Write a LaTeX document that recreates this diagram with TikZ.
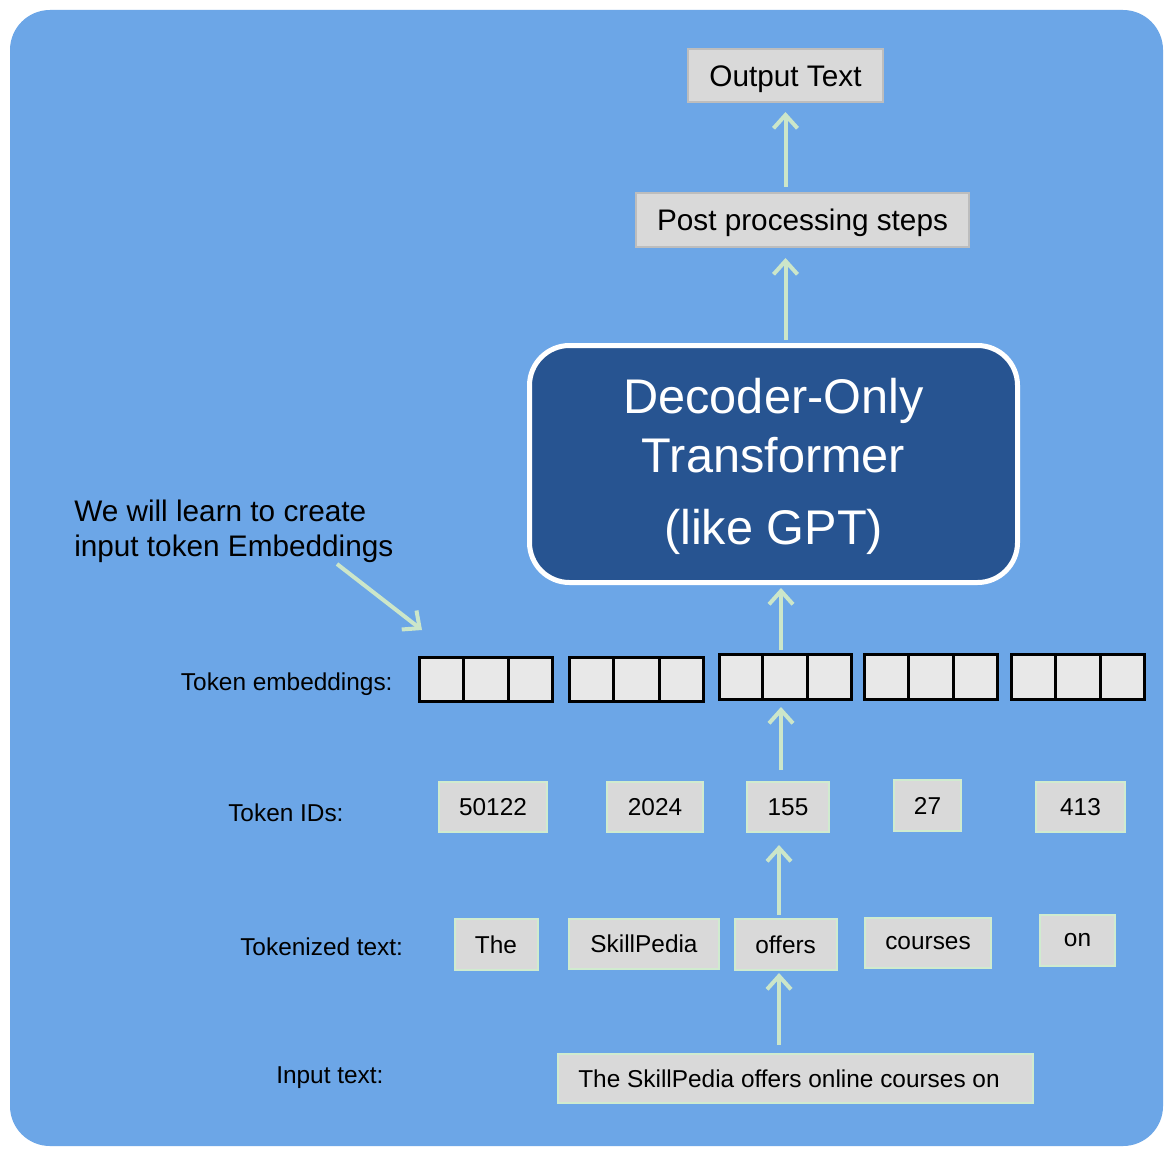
\documentclass[tikz,border=0pt]{standalone}
\usepackage{fontspec}
\setmainfont{Liberation Sans}
\usetikzlibrary{arrows.meta,calc}
\definecolor{bgblue}{HTML}{6CA6E7}
\definecolor{decblue}{HTML}{275491}
\definecolor{boxgray}{HTML}{D9D9D9}
\definecolor{cellgray}{HTML}{E8E8E8}
\definecolor{boxgreen}{HTML}{D0EBCF}
\definecolor{arrgreen}{HTML}{CCE6C9}
\definecolor{bordgray}{HTML}{BDBDBD}
\newcommand\fsS{\fontsize{18.3pt}{22pt}\selectfont}
\newcommand\fsM{\fontsize{22.3pt}{26.5pt}\selectfont}
\newcommand\fsL{\fontsize{36.5pt}{44.25pt}\selectfont}
\begin{document}
\begin{tikzpicture}[x=0.75pt,y=-0.75pt,
  sz/.style n args={2}{minimum width=#1*0.75pt, minimum height=#2*0.75pt},
  tokbox/.style={draw=boxgreen, line width=1.5pt, fill=boxgray, inner sep=0pt, font=\fsS},
  topbox/.style={draw=bordgray, line width=1.5pt, fill=boxgray, inner sep=0pt, font=\fsM, text height=16pt, text depth=0pt},
  decbox/.style={draw=white, line width=3.75pt, fill=decblue, rounded corners=30pt, inner sep=0pt, text=white, font=\fsL, align=center},
  embox/.style={draw=black, line width=2.25pt, fill=cellgray, inner sep=0pt},
  emline/.style={draw=black, line width=2.25pt},
  lbl/.style={anchor=base west, inner sep=0pt, font=\fsS},
  note/.style={anchor=base west, inner sep=0pt, font=\fsM},
  arr/.style={draw=arrgreen, line width=3pt, -{Straight Barb[length=10pt,width=18pt]}}
]
\useasboundingbox (0,0) rectangle (1176,1152);
\fill[white] (0,0) rectangle (1176,1152);
\fill[bgblue, rounded corners=30pt] (10,10) rectangle (1163,1146);

% top boxes
\node[topbox, sz={195}{53}] (out) at (785.5,75.5) {Output Text};
\node[topbox, sz={333}{54}] (post) at (802.5,220) {Post processing steps};

% decoder
\node[decbox, sz={488}{237}] (dec) at (773.5,464) {\rule{0pt}{30.4pt}Decoder-Only\\Transformer\\[9.5pt](like GPT)};

% note
\node[note] (note1) at (74,521) {We will learn to create};
\node[note] (note2) at (74,556) {input token Embeddings};

% row labels
\node[lbl] (lemb) at (180.7,690) {Token embeddings:};
\node[lbl] (lid) at (228,821) {Token IDs:};
\node[lbl] (ltok) at (240,955) {Tokenized text:};
\node[lbl] (linp) at (276,1083) {Input text:};

% embeddings
\node[embox, sz={133}{44}] (e1) at (486,679.5) {};
\node[embox, sz={134}{44}] (e2) at (636.5,679.5) {};
\node[embox, sz={132}{45}] (e3) at (785,677) {};
\node[embox, sz={133}{45}] (e4) at (931,677) {};
\node[embox, sz={133}{45}] (e5) at (1078,677) {};
\foreach \e in {e1,e2,e3,e4,e5}{
  \foreach \f in {0.3333,0.6667}{
    \draw[emline] ($(\e.north west)!\f!(\e.north east)$) -- ($(\e.south west)!\f!(\e.south east)$);
  }
}

% token IDs
\node[tokbox, sz={108}{50}] (i1) at (493,807) {50122};
\node[tokbox, sz={96}{50}] (i2) at (655,807) {2024};
\node[tokbox, sz={82}{50}] (i3) at (788,807) {155};
\node[tokbox, sz={67}{51}] (i4) at (927.5,805.5) {27};
\node[tokbox, sz={89}{50}] (i5) at (1080.5,807) {413};

% tokens
\node[tokbox, sz={83}{51}] (t1) at (496,944.5) {The};
\node[tokbox, sz={150}{50}] (t2) at (644,944) {SkillPedia};
\node[tokbox, sz={102}{51}] (t3) at (785.6,944.5) {offers};
\node[tokbox, sz={126}{50}] (t4) at (928,943) {courses};
\node[tokbox, sz={75}{51}] (t5) at (1077.5,940.5) {on};

% input
\node[tokbox, sz={475}{49}] (inp) at (795,1078.5) {\hspace{-9pt}The SkillPedia offers online courses on};

% connectors
\coordinate (colA) at (781,0);
\coordinate (colB) at (779,0);
\draw[arr, shorten <=3.75pt, shorten >=6.75pt] (out.south |- post.north) -- (out.south);
\draw[arr, shorten <=2.25pt, shorten >=7.5pt] (out.south |- dec.north) -- (out.south |- post.south);
\draw[arr, shorten <=2.25pt, shorten >=2.25pt] (colA |- e3.north) -- (colA |- dec.south);
\draw[arr, shorten <=8.25pt, shorten >=4.5pt] (colA |- i3.north) -- (colA |- e3.south);
\draw[arr, shorten <=2.25pt, shorten >=9pt] (colB |- t3.north) -- (colB |- i3.south);
\draw[arr, shorten <=6pt, shorten >=1.5pt] (colB |- inp.north) -- (colB |- t3.south);
\coordinate (annA) at (337,564);
\coordinate (annB) at (422,630);
\draw[arr] (annA) -- (annB);
\end{tikzpicture}
\end{document}
